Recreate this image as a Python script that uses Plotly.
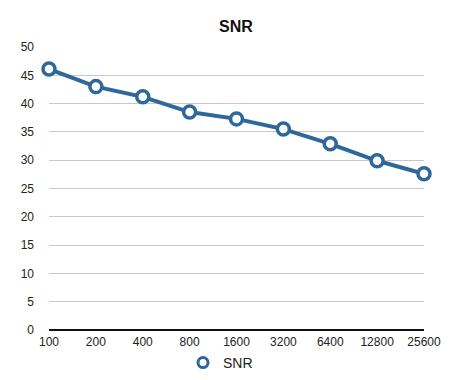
import plotly.graph_objects as go

categories = ["100", "200", "400", "800", "1600", "3200", "6400", "12800", "25600"]
snr_values = [46.1, 43.0, 41.2, 38.5, 37.3, 35.5, 32.9, 29.9, 27.6]
y_ticks = [0, 5, 10, 15, 20, 25, 30, 35, 40, 45, 50]

blue = "#2e6799"

fig = go.Figure()
fig.add_trace(go.Scatter(
    x=list(range(len(categories))), y=snr_values, name="SNR",
    mode="lines+markers", showlegend=False,
    line=dict(color=blue, width=4),
    marker=dict(symbol="circle", size=12, color="white", line=dict(color=blue, width=3.5)),
    cliponaxis=False,
))
# legend entry: marker only
fig.add_trace(go.Scatter(
    x=[None], y=[None], name="SNR", mode="markers", showlegend=True,
    marker=dict(symbol="circle", size=10, color="white", line=dict(color=blue, width=3)),
))

# page body has an 8px default margin, so offsets compensate for it
fig.update_layout(
    width=450, height=380,
    margin=dict(l=41, r=34, t=39, b=58, autoexpand=False),
    paper_bgcolor="white", plot_bgcolor="white",
    font=dict(family="Liberation Sans, Arial, sans-serif", size=12, color="#222222"),
    title=dict(text="<b>SNR</b>", x=(236 - 8) / 450, xanchor="center", y=1 - 18/380, yanchor="middle",
               font=dict(size=16, color="#111111")),
    showlegend=True,
    legend=dict(orientation="h", x=0.5 - 16/375, xanchor="center", y=-33/283, yanchor="middle",
                font=dict(size=14, color="#222222"), itemwidth=30),
    xaxis=dict(
        tickmode="array", tickvals=list(range(len(categories))), ticktext=categories,
        range=[0, len(categories) - 1], showgrid=False, zeroline=False, automargin=False,
        showline=False, ticks="", tickfont=dict(size=12), ticklabelstandoff=3,
    ),
    yaxis=dict(
        range=[0, 50], tickvals=y_ticks, showgrid=True, gridcolor="#c8c8c8", gridwidth=1,
        zeroline=True, zerolinecolor="#111111", zerolinewidth=1.5, automargin=False,
        showline=False, ticks="", tickfont=dict(size=12), ticklabelstandoff=14,
    ),
)

fig.write_html("out.html")
